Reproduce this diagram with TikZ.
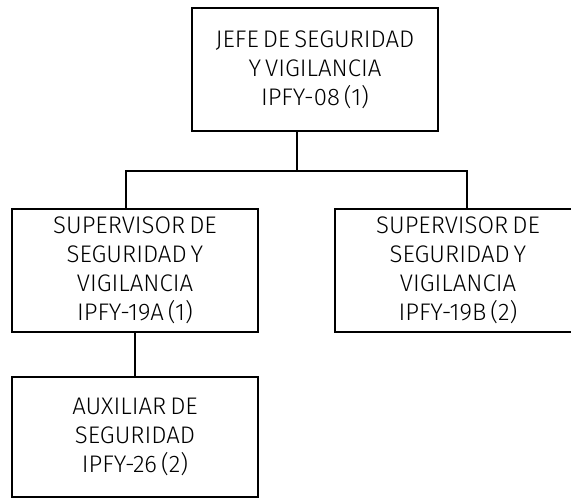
\documentclass[tikz,border=0pt]{standalone}
\usepackage{fontspec}
\setmainfont{Fira Sans Light}[WordSpace=0.6]
\usepackage{tikz}
\tikzset{
  puesto/.style={draw=black, line width=1.8pt, rectangle, inner sep=0pt,
    minimum width=246pt, minimum height=123pt, align=center,
    font=\fontsize{24}{29}\selectfont},
  enlace/.style={black, line width=1.8pt}
}

\begin{document}
\begin{tikzpicture}[x=1pt, y=-1pt]
  \clip (0,0) rectangle (571,499);
  \useasboundingbox (0,0) rectangle (571,499);
  \node[puesto] (jefe) at (315,69.5) {JEFE DE SEGURIDAD\\Y VIGILANCIA\\IPFY-08 (1)};
  \node[puesto] (supA) at (135,270.5) {SUPERVISOR DE\\SEGURIDAD Y\\VIGILANCIA\\IPFY-19A (1)};
  \node[puesto] (supB) at (458,270.5) {SUPERVISOR DE\\SEGURIDAD Y\\VIGILANCIA\\IPFY-19B (2)};
  \node[puesto, minimum height=120pt] (aux) at (135,437) {AUXILIAR DE\\SEGURIDAD\\IPFY-26 (2)};
  \coordinate (bus) at (297,171);
  \coordinate (busA) at (125.6,171);
  \coordinate (busB) at (467,171);
  \coordinate (ramaA) at (135,0);
  \draw[enlace] (bus |- jefe.south) -- (bus);
  \draw[enlace] (busA |- supA.north) -- (busA) -- (busB) -- (busB |- supB.north);
  \draw[enlace] (ramaA |- supA.south) -- (ramaA |- aux.north);
\end{tikzpicture}
\end{document}
